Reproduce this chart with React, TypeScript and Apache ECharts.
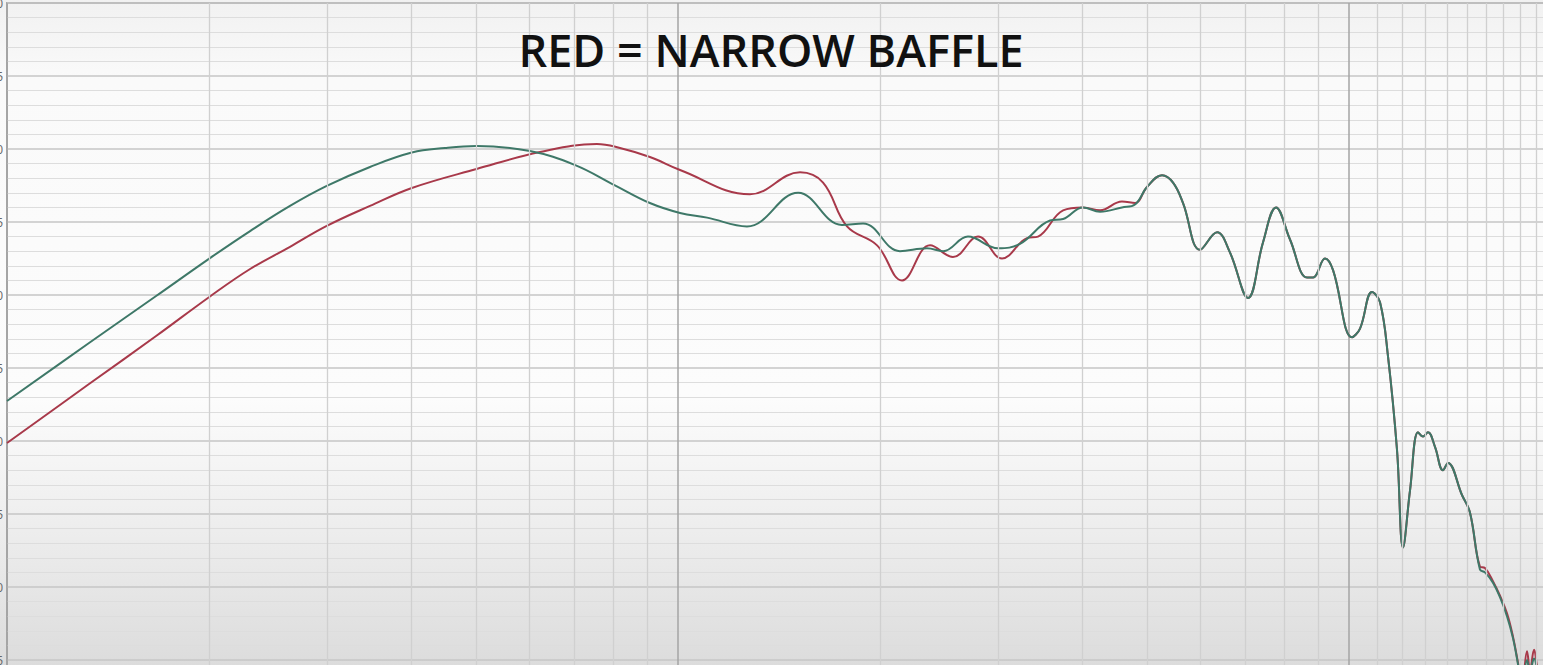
import React, { useEffect, useRef } from "react";
import * as echarts from "echarts";

// Wide baffle (green)
const greenFreq = [100, 132.5, 166.8, 200.7, 230.3, 264.1, 299.6, 347.5, 401.2, 449.5, 501, 601.6, 702.7, 804, 908, 1007, 1105, 1267, 1510, 1755, 1887, 2142, 2350, 2483, 2705, 2999, 3233, 3585, 3749, 4014, 4256, 4588, 4798, 5000, 5264, 5467, 5658, 5997, 6359, 6648, 7071, 7444, 7784, 8167, 8658, 8838, 9210, 9467, 10104, 10385, 10822, 11123, 11432, 11790, 12036, 12328, 12671, 12891, 13112, 13432, 13805, 14043, 14735, 15144, 15672, 15944, 16388, 16788, 17197, 17554, 17859, 18106, 18420, 18610, 18870, 19130, 19600];
const greenDb = [72.74, 76.71, 79.93, 82.53, 84.38, 86.1, 87.47, 88.77, 89.76, 90.07, 90.21, 89.86, 88.9, 87.53, 86.3, 85.62, 85.3, 84.7, 87.0, 84.8, 84.9, 83.0, 83.2, 83.0, 84.0, 83.2, 83.5, 85.1, 85.2, 86.0, 85.7, 86.0, 86.2, 87.4, 88.2, 87.7, 86.3, 83.1, 84.3, 82.9, 79.8, 83.6, 86.0, 83.8, 81.2, 81.2, 82.5, 81.7, 77.1, 77.7, 80.2, 79.5, 75.8, 69.4, 62.7, 66.6, 70.6, 70.3, 70.6, 69.6, 68.0, 68.5, 66.3, 65.1, 61.2, 61.0, 60.3, 59.3, 58.0, 56.5, 54.7, 53.0, 55.0, 54.2, 55.1, 54.2, 53.0];

// Narrow baffle (red)
const redFreq = [100, 132.5, 166.8, 200.7, 230.3, 264.1, 299.6, 347.5, 401.2, 501, 622.8, 757, 809, 908, 1007, 1280, 1520, 1645, 1786, 1980, 2157, 2375, 2569, 2800, 3040, 3312, 3440, 3749, 4014, 4256, 4588, 4798, 5000, 5264, 5467, 5658, 5997, 6359, 6648, 7071, 7444, 7784, 8167, 8658, 8838, 9210, 9467, 10104, 10385, 10822, 11123, 11432, 11790, 12036, 12328, 12671, 12891, 13112, 13432, 13805, 14043, 14735, 15144, 15672, 15944, 16388, 16788, 17197, 17554, 17859, 18106, 18420, 18610, 18870, 19130, 19600];
const redDb = [69.86, 73.9, 77.19, 79.9, 81.78, 83.3, 84.73, 86.1, 87.33, 88.63, 89.79, 90.34, 90.14, 89.45, 88.56, 86.9, 88.4, 87.7, 84.7, 83.4, 81.0, 83.4, 82.6, 84.0, 82.5, 83.9, 84.0, 85.8, 86.0, 85.8, 86.4, 86.3, 87.4, 88.2, 87.7, 86.3, 83.1, 84.3, 82.9, 79.8, 83.6, 86.0, 83.8, 81.2, 81.2, 82.5, 81.7, 77.1, 77.7, 80.2, 79.5, 75.8, 69.4, 62.7, 66.6, 70.6, 70.3, 70.6, 69.6, 68.0, 68.5, 66.3, 65.1, 61.4, 61.3, 60.4, 59.4, 58.2, 56.6, 54.8, 53.2, 55.6, 54.3, 55.7, 54.3, 53.2];

// Minor vertical gridlines (Hz)
const minorFreqs = [200, 300, 400, 500, 600, 700, 800, 900, 2000, 3000, 4000, 5000, 6000, 7000, 8000, 9000, 11000, 12000, 13000, 14000, 15000, 16000, 17000, 18000, 19000];

const title = "RED = NARROW BAFFLE";

export default function App() {
  const ref = useRef<HTMLDivElement>(null);
  useEffect(() => {
    if (!ref.current) return;
    const chart = echarts.init(ref.current, undefined, { renderer: "svg" });
    const pair = (f: number[], d: number[]) => f.map((v, i) => [v, d[i]]);
    chart.setOption({
      animation: false,
      backgroundColor: "transparent",
      grid: {
        left: 7,
        top: 3,
        width: 1544,
        height: 730,
        containLabel: false,
        outerBoundsMode: "none",
        show: true,
        borderColor: "#a9a9a9",
        borderWidth: 2,
        backgroundColor: "transparent",
      },
      xAxis: {
        type: "log",
        logBase: 10,
        min: 100,
        max: 20000,
        axisLine: { show: false },
        axisTick: { show: false },
        axisLabel: { show: false },
        splitLine: { show: true, lineStyle: { color: "#a4a4a4", width: 1.5 } },
      },
      yAxis: {
        type: "value",
        min: 50,
        max: 100,
        interval: 5,
        splitNumber: 5,
        axisLine: { show: false },
        axisTick: { show: false },
        axisLabel: { show: true, margin: 4, fontSize: 12, color: "#666", fontFamily: "Open Sans" },
        splitLine: { show: true, lineStyle: { color: "#c6c6c6", width: 1.5 } },
        minorTick: { show: false, splitNumber: 5 },
        minorSplitLine: { show: true, lineStyle: { color: "#dddddd", width: 1.2 } },
      },
      graphic: [
        {
          type: "text",
          x: 771,
          y: 49.5,
          z: 100,
          style: {
            text: title,
            fill: "#111111",
            font: "600 45px 'Open Sans'",
            align: "center",
            verticalAlign: "middle",
          },
        },
      ],
      series: [
        {
          type: "line",
          data: [],
          z: 1,
          silent: true,
          markLine: {
            silent: true,
            symbol: ["none", "none"],
            label: { show: false },
            lineStyle: { type: "solid", color: "#d0d0d0", width: 1.3 },
            data: minorFreqs.map((f) => ({ xAxis: f })),
          },
        },
        {
          name: "Narrow",
          type: "line",
          z: 3,
          data: pair(redFreq, redDb),
          showSymbol: false,
          smooth: 0.4,
          lineStyle: { color: "#a8394a", width: 2 },
        },
        {
          name: "Wide",
          type: "line",
          z: 4,
          data: pair(greenFreq, greenDb),
          showSymbol: false,
          smooth: 0.4,
          lineStyle: { color: "#3e7868", width: 2 },
        },
      ],
    });
    return () => chart.dispose();
  }, []);
  return (
    <div
      style={{
        position: "fixed",
        left: 0,
        top: 0,
        width: 1543,
        height: 665,
        overflow: "hidden",
        background: "linear-gradient(to bottom, #f1f1f1 0%, #fafafa 12%, #fcfcfc 60%, #e9e9e9 85%, #dcdcdc 100%)",
      }}
    >
      <div ref={ref} style={{ position: "absolute", left: 0, top: 0, width: 1600, height: 760 }} />
    </div>
  );
}
